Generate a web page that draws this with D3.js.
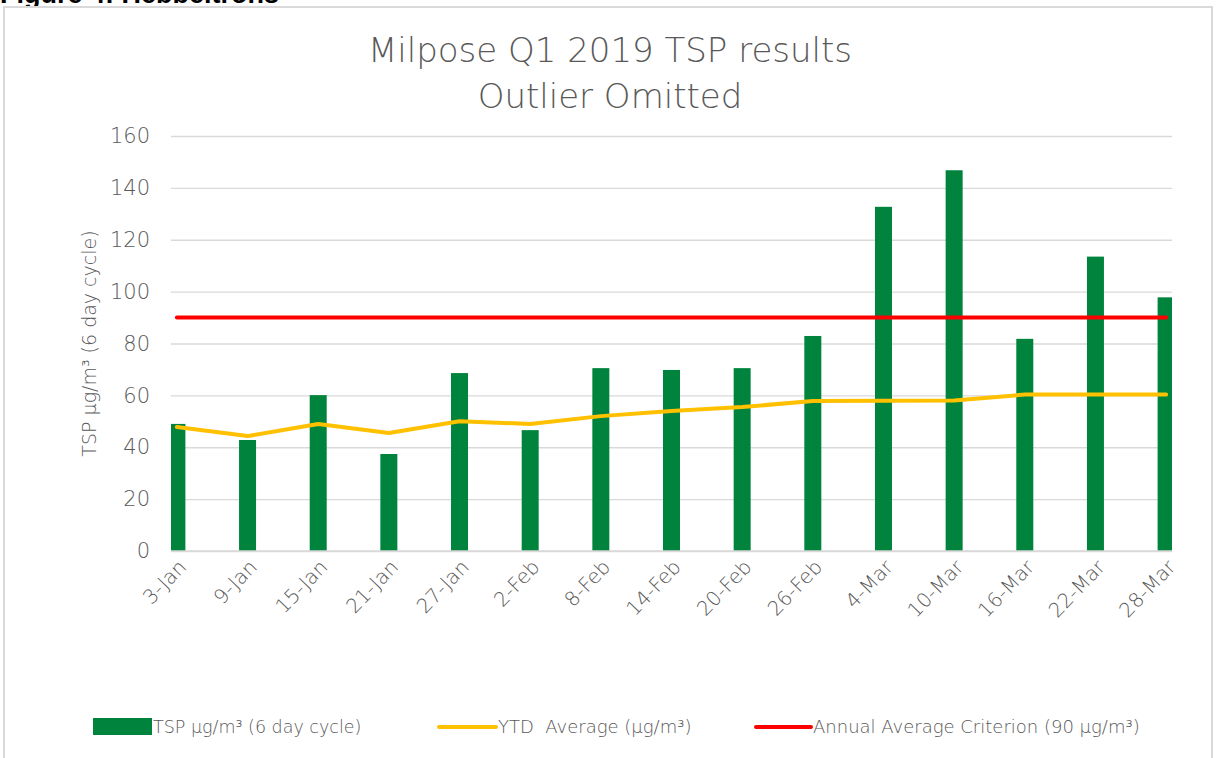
<!DOCTYPE html>
<html>
<head>
<meta charset="utf-8">
<script src="https://cdn.jsdelivr.net/npm/d3@7"></script>
<style>
  body { margin: 0; background: #fff; }
  svg { display: block; font-family: 'DejaVu Sans', sans-serif; }
  .grid line { stroke: #d9d9d9; stroke-width: 1.3; }
  .grid .domain { display: none; }
  .ytick text, .xtick text { fill: #595959; }
</style>
</head>
<body>
<script>
const width = 1216;
const height = 758;

const dates = ['2019-01-03', '2019-01-09', '2019-01-15', '2019-01-21', '2019-01-27',
  '2019-02-02', '2019-02-08', '2019-02-14', '2019-02-20', '2019-02-26',
  '2019-03-04', '2019-03-10', '2019-03-16', '2019-03-22', '2019-03-28'];
const tickLabels = ['3-Jan', '9-Jan', '15-Jan', '21-Jan', '27-Jan', '2-Feb', '8-Feb', '14-Feb',
  '20-Feb', '26-Feb', '4-Mar', '10-Mar', '16-Mar', '22-Mar', '28-Mar'];
const tsp = [49.0, 42.8, 60.1, 37.4, 68.6, 46.6, 70.5, 69.8, 70.5, 82.9, 132.7, 146.8, 81.8, 113.5, 97.8];
const ytd = [47.8, 44.3, 49.0, 45.5, 50.0, 49.0, 52.0, 54.0, 55.5, 57.8, 57.9, 58.0, 60.3, 60.3, 60.3];
const criterion = 90;
const yTicks = [0, 20, 40, 60, 80, 100, 120, 140, 160];

const parse = d3.utcParse('%Y-%m-%d');
const days = dates.map(parse);
const halfDay = 12 * 3600 * 1000;

const m = { left: 171, right: 1172, top: 136, bottom: 551 };

function init() {
  const svg = d3.select('body')
    .append('svg')
    .attr('width', width)
    .attr('height', height);

  // caption above the frame, mostly cut off like in the source page
  svg.append('text')
    .attr('x', 0)
    .attr('y', 3)
    .attr('font-family', 'Liberation Sans, Arial, sans-serif')
    .attr('font-weight', 'bold')
    .attr('font-size', 27)
    .attr('fill', '#000')
    .text('Figure 4: Hebbeltrons');

  svg.append('rect')
    .attr('x', 4)
    .attr('y', 7)
    .attr('width', 1208)
    .attr('height', 770)
    .attr('fill', '#fff')
    .attr('stroke', '#d9d9d9')
    .attr('stroke-width', 2);

  const x = d3.scaleUtc()
    .domain([new Date(+days[0] - halfDay), new Date(+days[days.length - 1] + halfDay)])
    .range([m.left, m.right]);

  const y = d3.scaleLinear()
    .domain([0, 160])
    .range([m.bottom, m.top]);

  // title
  const title = svg.append('text')
    .attr('text-anchor', 'middle')
    .attr('fill', '#595959')
    .attr('font-size', 34)
    .attr('font-weight', 300);
  title.append('tspan').attr('x', 610).attr('y', 62).text('Milpose Q1 2019 TSP results');
  title.append('tspan').attr('x', 610).attr('y', 108).text('Outlier Omitted');

  // gridlines
  svg.append('g')
    .attr('class', 'grid')
    .attr('transform', `translate(${m.left},0)`)
    .call(d3.axisLeft(y).tickValues(yTicks).tickSize(-(m.right - m.left)).tickFormat(''));

  // y labels
  svg.append('g')
    .attr('class', 'ytick')
    .attr('transform', `translate(${m.left},0)`)
    .call(d3.axisLeft(y).tickValues(yTicks).tickSize(0).tickPadding(21))
    .call(g => g.select('.domain').remove())
    .call(g => g.selectAll('text')
      .attr('font-size', 21)
      .attr('font-family', 'DejaVu Sans, sans-serif')
      .attr('font-weight', 300));

  // y title
  svg.append('text')
    .attr('transform', `translate(96,${(m.top + m.bottom) / 2}) rotate(-90)`)
    .attr('text-anchor', 'middle')
    .attr('fill', '#595959')
    .attr('font-size', 19)
    .attr('font-weight', 300)
    .text('TSP µg/m³ (6 day cycle)');

  svg.append('clipPath').attr('id', 'plot')
    .append('rect')
    .attr('x', m.left)
    .attr('y', 0)
    .attr('width', m.right - m.left)
    .attr('height', m.bottom);

  // bars
  const barW = 17;
  svg.append('g')
    .attr('clip-path', 'url(#plot)')
    .selectAll('rect')
    .data(tsp)
    .join('rect')
    .attr('x', (d, i) => x(days[i]) - barW / 2)
    .attr('y', d => y(d))
    .attr('width', barW)
    .attr('height', d => y(0) - y(d))
    .attr('fill', '#00843d');

  // x axis line
  svg.append('line')
    .attr('x1', m.left)
    .attr('x2', m.right)
    .attr('y1', y(0))
    .attr('y2', y(0))
    .attr('stroke', '#d9d9d9')
    .attr('stroke-width', 1.3);

  // x labels
  svg.append('g')
    .attr('class', 'xtick')
    .attr('transform', `translate(0,${m.bottom})`)
    .call(d3.axisBottom(x).tickValues(days).tickSize(0).tickFormat((d, i) => tickLabels[i]))
    .call(g => g.select('.domain').remove())
    .call(g => g.selectAll('text')
      .attr('font-size', 20)
      .attr('font-family', 'DejaVu Sans, sans-serif')
      .attr('font-weight', 300)
      .attr('text-anchor', 'end')
      .attr('dy', 0)
      .attr('transform', 'translate(8,15) rotate(-46)'));

  // ytd line
  svg.append('path')
    .datum(ytd)
    .attr('fill', 'none')
    .attr('stroke', '#ffc000')
    .attr('stroke-width', 4)
    .attr('stroke-linejoin', 'round')
    .attr('stroke-linecap', 'round')
    .attr('d', d3.line().x((d, i) => x(days[i])).y(d => y(d)));

  // criterion line
  svg.append('path')
    .datum(days)
    .attr('fill', 'none')
    .attr('stroke', '#ff0000')
    .attr('stroke-width', 4)
    .attr('stroke-linecap', 'round')
    .attr('d', d3.line().x(d => x(d)).y(() => y(criterion)));

  // legend
  const leg = svg.append('g').attr('font-size', 18).attr('font-weight', 300).attr('fill', '#595959');
  const ly = 727;
  leg.append('rect').attr('x', 93).attr('y', ly - 9).attr('width', 59).attr('height', 17).attr('fill', '#00843d');
  leg.append('text').attr('x', 153).attr('y', ly + 6).attr('font-size', 17.5).text('TSP µg/m³ (6 day cycle)');
  leg.append('line').attr('x1', 439).attr('x2', 496).attr('y1', ly).attr('y2', ly)
    .attr('stroke', '#ffc000').attr('stroke-width', 4).attr('stroke-linecap', 'round');
  leg.append('text').attr('x', 498).attr('y', ly + 6).attr('xml:space', 'preserve').text('YTD  Average (µg/m³)');
  leg.append('line').attr('x1', 756).attr('x2', 811).attr('y1', ly).attr('y2', ly)
    .attr('stroke', '#ff0000').attr('stroke-width', 4).attr('stroke-linecap', 'round');
  leg.append('text').attr('x', 813).attr('y', ly + 6).text('Annual Average Criterion (90 µg/m³)');
}

init();
</script>
</body>
</html>
